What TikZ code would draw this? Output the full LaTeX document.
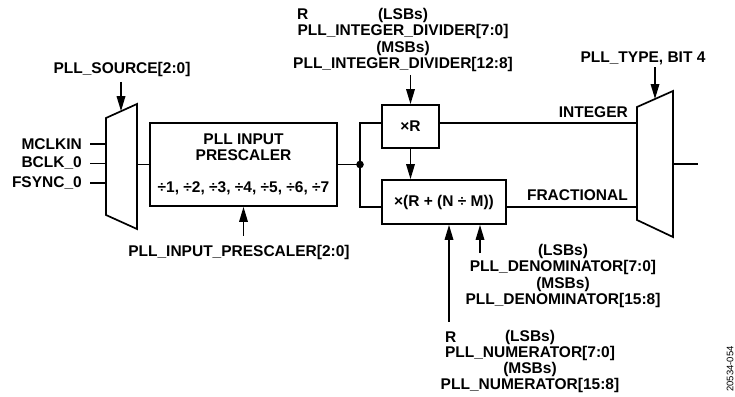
\documentclass[tikz,border=0pt]{standalone}
\usepackage{fontspec}
\setmainfont{Liberation Sans}
\usetikzlibrary{arrows.meta}
\begin{document}
\begin{tikzpicture}[x=1pt,y=-1pt,
  lbl/.style={font=\bfseries\fontsize{15.5}{16.3}\selectfont, inner sep=0pt, align=center},
  blk/.style={draw, line width=1.7pt, font=\bfseries\fontsize{15.5}{16.3}\selectfont, align=center, inner sep=0pt},
  wire/.style={line width=1.7pt},
  arr/.style={wire, -{Triangle[length=15pt,width=8.5pt]}},
]
\useasboundingbox (0,0) rectangle (735,396);
% left mux
\coordinate (m1tl) at (106,118);
\coordinate (m1tr) at (137,104);
\coordinate (m1br) at (137,229);
\coordinate (m1bl) at (106,215);
\draw[wire, line join=miter] (m1tl) -- (m1tr) -- (m1br) -- (m1bl) -- cycle;
% right mux
\coordinate (m2tl) at (637,107);
\coordinate (m2tr) at (673,91);
\coordinate (m2br) at (673,237);
\coordinate (m2bl) at (637,220);
\draw[wire, line join=miter] (m2tl) -- (m2tr) -- (m2br) -- (m2bl) -- cycle;
% blocks
\node[blk, minimum width=187pt, minimum height=83pt] (pre) at (243.5,164.5)
  {PLL INPUT\\PRESCALER\\[15.7pt]÷1, ÷2, ÷3, ÷4, ÷5, ÷6, ÷7};
\node[blk, minimum width=57pt, minimum height=43pt] (xr) at (410.5,126.5) {×R};
\node[blk, minimum width=124pt, minimum height=44pt] (frac) at (444,202) {×(R + (N ÷ M))};
% input labels
\node[lbl, anchor=east] (mclk) at (82,144) {MCLKIN};
\node[lbl, anchor=east] (bclk) at (82,163.5) {BCLK\_0};
\node[lbl, anchor=east] (fsync) at (82,183) {FSYNC\_0};
\coordinate (i1) at (106,144);
\coordinate (i2) at (106,163.5);
\coordinate (i3) at (106,183);
\draw[wire, shorten <=8pt] (mclk.east) -- (i1);
\draw[wire, shorten <=8pt] (bclk.east) -- (i2);
\draw[wire, shorten <=8pt] (fsync.east) -- (i3);
% source select
\node[lbl] (src) at (122,69.5) {PLL\_SOURCE[2:0]};
\coordinate (a1) at (121,111.2);
\draw[arr, shorten <=5pt] (src.south -| a1) -- (a1);
% mux out to prescaler
\coordinate (m1o) at (137,164.5);
\draw[wire] (m1o) -- (pre.west);
% prescaler select
\node[lbl] (plab) at (239,252) {PLL\_INPUT\_PRESCALER[2:0]};
\draw[arr, shorten <=9pt] (plab.north -| pre.south) -- (pre.south);
% split
\coordinate (dot) at (360,164.5);
\draw[wire] (pre.east) -- (dot);
\fill (dot) circle (3.8pt);
\draw[wire] (dot) |- ([yshift=3.5pt]xr.west);
\draw[wire] (dot) |- ([yshift=-5pt]frac.west);
% integer divider
\node[lbl] (intlab) at (403,40) {(LSBs)\\PLL\_INTEGER\_DIVIDER[7:0]\\(MSBs)\\PLL\_INTEGER\_DIVIDER[12:8]};
\node[lbl, anchor=west] (r1) at (297,14) {R};
\draw[arr, shorten <=3pt] (intlab.south -| xr.north) -- (xr.north);
\draw[arr] (xr.south) -- (frac.north -| xr.south);
% mux inputs
\coordinate (m2i1) at (637,123);
\coordinate (m2i2) at (637,207);
\draw[wire] ([yshift=3.5pt]xr.east) -- (m2i1);
\draw[wire] ([yshift=-5pt]frac.east) -- (m2i2);
\node[lbl, anchor=east] (intl) at (628,112) {INTEGER};
\node[lbl, anchor=east] (fracl) at (628,195) {FRACTIONAL};
% type select
\node[lbl] (typ) at (643,58.5) {PLL\_TYPE, BIT 4};
\coordinate (a2) at (655,99);
\draw[arr, shorten <=2pt] (typ.south -| a2) -- (a2);
% output
\coordinate (m2o) at (673,164);
\coordinate (out) at (698,164);
\draw[wire] (m2o) -- (out);
% denominator
\node[lbl] (denlab) at (563,276) {(LSBs)\\PLL\_DENOMINATOR[7:0]\\(MSBs)\\PLL\_DENOMINATOR[15:8]};
\coordinate (dens) at (480,253);
\coordinate (denin) at ([xshift=36pt]frac.south);
\draw[arr] (dens) -- (denin);
% numerator
\node[lbl] (numlab) at (530,361.5) {(LSBs)\\PLL\_NUMERATOR[7:0]\\(MSBs)\\PLL\_NUMERATOR[15:8]};
\node[lbl, anchor=west] (r2) at (445,337) {R};
\coordinate (numin) at ([xshift=5pt]frac.south);
\draw[arr, shorten <=8pt] (numlab.north -| numin) -- (numin);
% figure id
\node[font=\fontsize{9.5}{10}\selectfont, rotate=90, inner sep=0pt] (fig) at (730,369) {20534-054};
\end{tikzpicture}
\end{document}
